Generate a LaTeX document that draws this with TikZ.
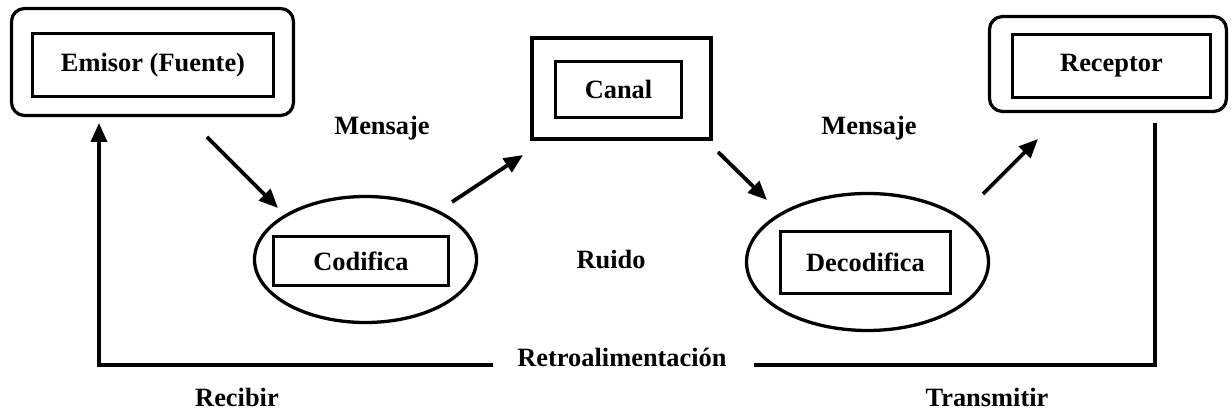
\documentclass[tikz,border=0pt]{standalone}
\usepackage{fontspec}
\setmainfont{Liberation Serif}
\usetikzlibrary{arrows.meta,shapes.geometric}
\begin{document}
\begin{tikzpicture}[x=1pt,y=-1pt,
  lbl/.style={font=\fontsize{26.4}{30}\selectfont\bfseries},
  outerR/.style={draw,line width=3.2pt,rounded corners=13pt,inner sep=0pt},
  outerS/.style={draw,line width=3.6pt,inner sep=0pt},
  innerbox/.style={draw,line width=3.2pt,inner sep=0pt,lbl},
  oval/.style={draw,ellipse,line width=3.3pt,inner sep=0pt},
  arr/.style={line width=3.8pt,-{Triangle[length=19pt,width=16pt]}},
  fb/.style={line width=3.6pt}]
\path[fill=white,use as bounding box] (0,0) rectangle (1232,411);
% boxes
\node[outerR,minimum width=282pt,minimum height=107pt] (emiO) at (152.5,62) {};
\node[innerbox,minimum width=241pt,minimum height=63pt] (emi) at (153,65) {Emisor (Fuente)};
\node[outerS,minimum width=179.5pt,minimum height=101.5pt] (canO) at (621.5,88.5) {};
\node[innerbox,minimum width=126pt,minimum height=56pt] (can) at (618.5,89.5) {Canal};
\node[outerR,minimum width=237pt,minimum height=95pt] (recO) at (1108,64) {};
\node[innerbox,minimum width=198pt,minimum height=63pt] (rcp) at (1111.5,66) {Receptor};
\node[oval,minimum width=222pt,minimum height=126pt] (codO) at (365.5,259.5) {};
\node[innerbox,minimum width=175pt,minimum height=49pt] (cod) at (361,261) {Codifica};
\node[oval,minimum width=242pt,minimum height=137pt] (decO) at (867.5,262) {};
\node[innerbox,minimum width=170pt,minimum height=62pt] (dec) at (865.5,262.5) {Decodifica};
% labels
\node[lbl,anchor=base] (m1) at (382,135) {Mensaje};
\node[lbl,anchor=base] (m2) at (869,135) {Mensaje};
\node[lbl,anchor=base] (ruido) at (611,269) {Ruido};
\node[lbl,anchor=base] (retro) at (622,367) {Retroalimentación};
\node[lbl,anchor=base] (rec) at (237,407) {Recibir};
\node[lbl,anchor=base] (tra) at (987,407) {Transmitir};
% arrow end points
\coordinate (a1s) at (207,137);
\coordinate (a1e) at (278,208);
\coordinate (a2s) at (452,202);
\coordinate (a2e) at (523,155);
\coordinate (a3s) at (718,152);
\coordinate (a3e) at (767,200);
\coordinate (a4s) at (983,194);
\coordinate (a4e) at (1038,139);
\draw[arr] (a1s) -- (a1e);
\draw[arr] (a2s) -- (a2e);
\draw[arr] (a3s) -- (a3e);
\draw[arr] (a4s) -- (a4e);
% feedback
\coordinate (fR0) at (1155,123);
\coordinate (fR1) at (1155,365);
\coordinate (fR2) at (754,365);
\coordinate (fL0) at (493,365);
\coordinate (fL1) at (99,365);
\coordinate (fL2) at (99,123);
\draw[fb] (fR0) -- (fR1) -- (fR2);
\draw[fb,-{Triangle[length=19pt,width=16pt]}] (fL0) -- (fL1) -- (fL2);
\end{tikzpicture}
\end{document}
